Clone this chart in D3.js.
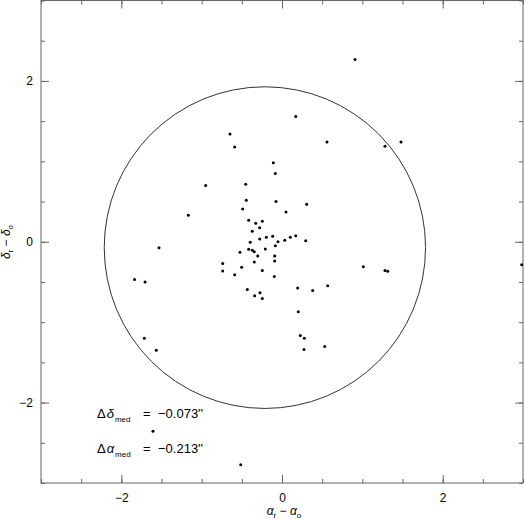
<!DOCTYPE html>
<html>
<head>
<meta charset="utf-8">
<script src="https://cdnjs.cloudflare.com/ajax/libs/d3/7.8.5/d3.min.js"></script>
<style>
  body { margin: 0; background: #fff; }
  text { font-family: "Liberation Sans", Helvetica, Arial, sans-serif; }
</style>
</head>
<body>
<svg width="525" height="520"></svg>
<script>
// offsets in arcsec: alpha_r - alpha_o (x) and delta_r - delta_o (y)
var dAlpha = [-0.108, -0.083, -0.950, -0.452, -0.444, -0.075, -0.489, -1.166, -0.415, -0.327,
              -0.245, -0.278, -0.370, -0.116, -0.195, -0.278, -0.395, -0.050, -0.083, -0.415,
              -0.370, -0.345, -0.208, -0.523, -0.302, -0.091, -0.738, -0.345, -0.091, -0.502,
              -0.245, 0.307, 0.050, 0.034, 0.103, 0.171, 0.295, 1.012, -0.738, -0.589,
              -0.096, -1.836, -1.705, -0.432, -0.340, -0.274, -0.245, -1.714, -1.565, 0.195,
              0.382, 0.569, 0.203, 0.228, 0.278, 0.274, 0.532, -1.531, 0.171, -0.647,
              -0.589, 0.560, 1.282, 1.481, 1.282, 1.316, 2.984, -1.606, -0.514, 0.909];
var dDelta = [0.981, 0.848, 0.698, 0.716, 0.517, 0.499, 0.408, 0.330, 0.267, 0.230,
              0.255, 0.175, 0.130, 0.068, 0.055, 0.034, -0.007, 0.001, -0.049, -0.094,
              -0.107, -0.124, -0.090, -0.131, -0.178, -0.178, -0.271, -0.252, -0.240, -0.318,
              -0.356, 0.467, 0.371, 0.018, 0.055, 0.075, 0.013, -0.311, -0.364, -0.411,
              -0.431, -0.470, -0.499, -0.593, -0.672, -0.635, -0.705, -1.199, -1.349, -0.576,
              -0.605, -0.548, -0.872, -1.166, -1.199, -1.340, -1.303, -0.074, 1.558, 1.339,
              1.177, 1.239, 1.189, 1.239, -0.356, -0.368, -0.286, -2.358, -2.773, 2.265];

var medDelta = -0.073;
var medAlpha = -0.213;
var radius = 2;

var majorTicks = [-2, 0, 2];
var minorTicks = d3.range(-3, 3.01, 0.5);

var svg = d3.select("svg");
var x = d3.scaleLinear().domain([-3, 3]).range([41, 523]);
var y = d3.scaleLinear().domain([-3, 3]).range([483, 0.5]);

// tick marks all point inward
function addAxis(axisFn, scale, tr, vals, size, pad, labels) {
  var g = svg.append("g")
    .attr("transform", tr)
    .call(axisFn(scale).tickValues(vals).tickSize(-size).tickPadding(pad)
      .tickFormat(labels ? d3.format("d") : ""));
  g.select(".domain").remove();
  g.selectAll("line").attr("stroke", "#666");
  g.selectAll("text").attr("font-size", 12).attr("fill", "#000");
  return g;
}
addAxis(d3.axisBottom, x, "translate(0,483)", minorTicks, 4, 10, false);
addAxis(d3.axisBottom, x, "translate(0,483)", majorTicks, 8, 10, true);
addAxis(d3.axisTop, x, "translate(0,0.5)", minorTicks, 4, 0, false);
addAxis(d3.axisTop, x, "translate(0,0.5)", majorTicks, 8, 0, false);
addAxis(d3.axisLeft, y, "translate(41,0)", minorTicks, 4, 8, false);
addAxis(d3.axisLeft, y, "translate(41,0)", majorTicks, 8, 8, true);
addAxis(d3.axisRight, y, "translate(523,0)", minorTicks, 4, 0, false);
addAxis(d3.axisRight, y, "translate(523,0)", majorTicks, 8, 0, false);

// frame
svg.append("rect")
  .attr("x", x(-3)).attr("y", y(3))
  .attr("width", x(3) - x(-3)).attr("height", y(-3) - y(3))
  .attr("fill", "none").attr("stroke", "#666").attr("stroke-width", 1);

// circle of radius 2" around the median offset
svg.append("ellipse")
  .attr("cx", x(medAlpha)).attr("cy", y(medDelta))
  .attr("rx", x(radius) - x(0)).attr("ry", y(0) - y(radius))
  .attr("fill", "none").attr("stroke", "#333").attr("stroke-width", 1);

// points
svg.append("g").selectAll("circle")
  .data(d3.range(dAlpha.length))
  .enter().append("circle")
  .attr("cx", function(i) { return x(dAlpha[i]); })
  .attr("cy", function(i) { return y(dDelta[i]); })
  .attr("r", 1.5)
  .attr("fill", "#000");

// axis titles
var xt = svg.append("text").attr("x", 284).attr("y", 515)
  .attr("text-anchor", "middle").attr("font-size", 12);
xt.append("tspan").attr("font-style", "italic").text("α");
xt.append("tspan").attr("font-size", 8).attr("dy", 3).text("r");
xt.append("tspan").attr("dy", -3).text(" − ");
xt.append("tspan").attr("font-style", "italic").text("α");
xt.append("tspan").attr("font-size", 8).attr("dy", 3).text("o");

var yt = svg.append("text").attr("transform", "translate(10,242) rotate(-90)")
  .attr("text-anchor", "middle").attr("font-size", 12);
yt.append("tspan").attr("font-style", "italic").text("δ");
yt.append("tspan").attr("font-size", 8).attr("dy", 3).text("r");
yt.append("tspan").attr("dy", -3).text(" − ");
yt.append("tspan").attr("font-style", "italic").text("δ");
yt.append("tspan").attr("font-size", 8).attr("dy", 3).text("o");

// median annotations
function medLabel(sym, val, by) {
  var t = svg.append("text").attr("x", 97).attr("y", by).attr("font-size", 13);
  t.append("tspan").text("Δ");
  t.append("tspan").attr("font-style", "italic").attr("dx", 1).text(sym);
  t.append("tspan").attr("font-size", 8).attr("dx", 1).attr("dy", 4).text("med");
  svg.append("text").attr("x", 143).attr("y", by).attr("font-size", 13).text("=");
  svg.append("text").attr("x", 158).attr("y", by).attr("font-size", 13)
    .text(d3.format(".3f")(val).replace("-", "−") + "''");
}
medLabel("δ", medDelta, 418);
medLabel("α", medAlpha, 453);
</script>
</body>
</html>
